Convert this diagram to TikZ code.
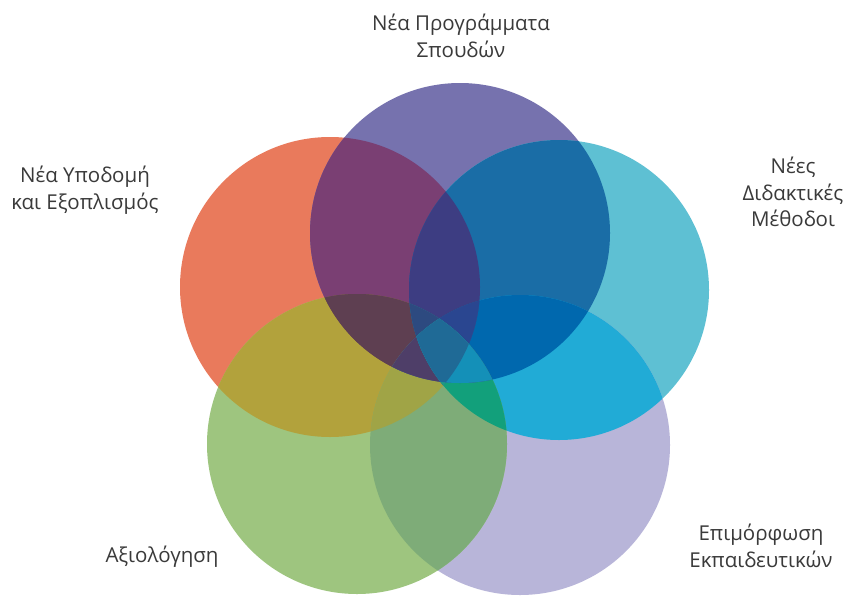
\documentclass[tikz,border=0pt]{standalone}
\usepackage{fontspec}
\setmainfont{Open Sans}
\definecolor{txt}{HTML}{3A3A3A}
% singles
\definecolor{cO}{HTML}{E97A5C}
\definecolor{cP}{HTML}{7672AE}
\definecolor{cC}{HTML}{5EC0D3}
\definecolor{cL}{HTML}{B8B5D9}
\definecolor{cG}{HTML}{9EC57F}
% pairs
\definecolor{cOP}{HTML}{7A3F73}
\definecolor{cOC}{HTML}{3D3D82}
\definecolor{cOL}{HTML}{A0A446}
\definecolor{cOG}{HTML}{B2A23C}
\definecolor{cPC}{HTML}{1A6DA6}
\definecolor{cPL}{HTML}{0068AE}
\definecolor{cPG}{HTML}{5E3F51}
\definecolor{cCL}{HTML}{21ABD6}
\definecolor{cCG}{HTML}{12A07B}
\definecolor{cGL}{HTML}{7EAC78}
% triples
\definecolor{cOPC}{HTML}{3D3D82}
\definecolor{cOPG}{HTML}{5E3F51}
\definecolor{cPCL}{HTML}{0068AE}
\definecolor{cCLG}{HTML}{12A07B}
\definecolor{cOGL}{HTML}{A0A446}
\definecolor{cOPL}{HTML}{4A3F70}
\definecolor{cOCL}{HTML}{1D5FA0}
\definecolor{cOCG}{HTML}{2A6E8A}
\definecolor{cPCG}{HTML}{1D6F9A}
\definecolor{cPLG}{HTML}{3A6E8F}
% quadruples
\definecolor{cOPCL}{HTML}{2A4690}
\definecolor{cOPCG}{HTML}{2D4A80}
\definecolor{cOPLG}{HTML}{4E3E68}
\definecolor{cOCLG}{HTML}{1E9A85}
\definecolor{cPCLG}{HTML}{1490B8}
\definecolor{cAll}{HTML}{1F6A96}
\newcommand\R{150pt}
\newcommand\one[2]{\fill[#2] (#1) circle[radius=\R];}
\newcommand\two[3]{\begin{scope}\clip (#1) circle[radius=\R];\fill[#3] (#2) circle[radius=\R];\end{scope}}
\newcommand\three[4]{\begin{scope}\clip (#1) circle[radius=\R];\clip (#2) circle[radius=\R];\fill[#4] (#3) circle[radius=\R];\end{scope}}
\newcommand\four[5]{\begin{scope}\clip (#1) circle[radius=\R];\clip (#2) circle[radius=\R];\clip (#3) circle[radius=\R];\fill[#5] (#4) circle[radius=\R];\end{scope}}
\newcommand\five[6]{\begin{scope}\clip (#1) circle[radius=\R];\clip (#2) circle[radius=\R];\clip (#3) circle[radius=\R];\clip (#4) circle[radius=\R];\fill[#6] (#5) circle[radius=\R];\end{scope}}
\begin{document}
\begin{tikzpicture}[x=1pt,y=-1pt,
  lbl/.style={text=txt,align=center,inner sep=0pt,font=\fontsize{20.5}{26.5}\selectfont}]
\useasboundingbox (0,0) rectangle (853,597);
\fill[white] (0,0) rectangle (853,597);
\coordinate (O) at (330,287);
\coordinate (P) at (460,233);
\coordinate (C) at (559,290);
\coordinate (L) at (520,445);
\coordinate (G) at (357,444);
% single circles
\one{O}{cO}\one{P}{cP}\one{C}{cC}\one{L}{cL}\one{G}{cG}
% pairs
\two{O}{P}{cOP}\two{O}{C}{cOC}\two{O}{L}{cOL}\two{O}{G}{cOG}
\two{P}{C}{cPC}\two{P}{L}{cPL}\two{P}{G}{cPG}
\two{C}{L}{cCL}\two{C}{G}{cCG}\two{G}{L}{cGL}
% triples
\three{O}{P}{C}{cOPC}\three{O}{P}{G}{cOPG}\three{P}{C}{L}{cPCL}
\three{C}{L}{G}{cCLG}\three{O}{G}{L}{cOGL}\three{O}{P}{L}{cOPL}
\three{O}{C}{L}{cOCL}\three{O}{C}{G}{cOCG}\three{P}{C}{G}{cPCG}
\three{P}{L}{G}{cPLG}
% quadruples
\four{O}{P}{C}{L}{cOPCL}\four{O}{P}{C}{G}{cOPCG}\four{O}{P}{L}{G}{cOPLG}
\four{O}{C}{L}{G}{cOCLG}\four{P}{C}{L}{G}{cPCLG}
\five{O}{P}{C}{L}{G}{cAll}
% labels
\node[lbl] (tProg) at (461,36) {Νέα Προγράμματα\\Σπουδών};
\node[lbl] (tYpod) at (85,190) {Νέα Υποδομή\\και Εξοπλισμός};
\node[lbl] (tMeth) at (793,192) {Νέες\\Διδακτικές\\Μέθοδοι};
\node[lbl] (tEpim) at (761,546) {Επιμόρφωση\\Εκπαιδευτικών};
\node[lbl] (tAxio) at (162,557) {Αξιολόγηση};
\end{tikzpicture}
\end{document}
